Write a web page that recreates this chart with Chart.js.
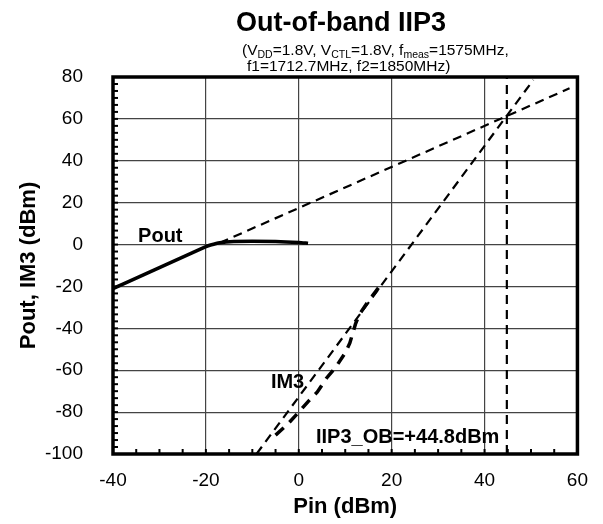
<!DOCTYPE html>
<html>
<head>
<meta charset="utf-8">
<script src="https://cdn.jsdelivr.net/npm/chart.js@4/dist/chart.umd.min.js"></script>
<style>
html,body{margin:0;padding:0;background:#fff;}
#wrap{width:603px;height:524px;position:relative;}
</style>
</head>
<body>
<div id="wrap"><canvas id="c" width="603" height="524"></canvas></div>
<script>
// ---- data ----
const pinPout = [-40, -35, -30, -25, -20, -19, -17, -14, -10, -5, 0, 2];
const poutVals = [-21, -16, -11, -6, -1, -0.2, 0.9, 1.5, 1.6, 1.5, 1.0, 0.6];

const pinIM3 = [-5, -2.5, 0, 2, 4, 6, 8, 10, 11, 12.2, 13, 15, 16.5, 17.2];
const im3Vals = [-91, -86, -80, -75, -70.4, -63.7, -58.4, -51.7, -47, -38, -33.5, -27, -22.6, -20.5];

const poutExtX = [-17, 58.3];
const poutExtY = [0.8, 74.6];
const im3ExtX = [-9.1, 50.5];
const im3ExtY = [-100, 78.6];
const iip3 = 44.8;
const iip3LineY = [-100, 80];

const xTicks = [-40, -20, 0, 20, 40, 60];
const yTicks = [-100, -80, -60, -40, -20, 0, 20, 40, 60, 80];

const labels = [
  {text: 'Pout', x: -34.6, y: 1.2},
  {text: 'IM3', x: -6, y: -68.4},
  {text: 'IIP3_OB=+44.8dBm', x: 3.7, y: -94.7}
];

const FONT = "'Liberation Sans', Arial, sans-serif";
const toPts = (xs, ys) => xs.map((x, i) => ({x: x, y: ys[i]}));

const framePlugin = {
  id: 'frame',
  afterDatasetsDraw(chart) {
    const ctx = chart.ctx, a = chart.chartArea;
    const xs = chart.scales.x, ys = chart.scales.y;
    ctx.save();
    // minor ticks
    ctx.strokeStyle = '#000';
    ctx.lineWidth = 2;
    for (let v = -40; v <= 60.001; v += 5) {
      const px = xs.getPixelForValue(v);
      ctx.beginPath(); ctx.moveTo(px, a.bottom); ctx.lineTo(px, a.bottom - 5); ctx.stroke();
    }
    for (let v = -100; v <= 80.001; v += 20 / 6) {
      const py = ys.getPixelForValue(v);
      ctx.beginPath(); ctx.moveTo(a.left, py); ctx.lineTo(a.left + 5, py); ctx.stroke();
    }
    // frame
    ctx.lineWidth = 3.5;
    ctx.strokeRect(a.left, a.top, a.right - a.left, a.bottom - a.top);
    // annotation labels
    ctx.fillStyle = '#000';
    ctx.textBaseline = 'alphabetic';
    ctx.textAlign = 'left';
    ctx.font = 'bold 20px ' + FONT;
    labels.forEach(l => {
      ctx.fillText(l.text, xs.getPixelForValue(l.x), ys.getPixelForValue(l.y));
    });
    ctx.restore();
  },
  afterDraw(chart) {
    const ctx = chart.ctx;
    ctx.save();
    ctx.fillStyle = '#000';
    ctx.textAlign = 'center';
    ctx.textBaseline = 'alphabetic';
    ctx.font = 'bold 27px ' + FONT;
    ctx.fillText('Out-of-band IIP3', 341, 31);
    // subtitle with subscripts
    ctx.textAlign = 'left';
    const segs1 = [['(V', 0], ['DD', 1], ['=1.8V, V', 0], ['CTL', 1], ['=1.8V, f', 0], ['meas', 1], ['=1575MHz,', 0]];
    let x = 242;
    segs1.forEach(s => {
      ctx.font = (s[1] ? '10.5px ' : '15.5px ') + FONT;
      ctx.fillText(s[0], x, s[1] ? 58 : 55);
      x += ctx.measureText(s[0]).width;
    });
    ctx.font = '15.5px ' + FONT;
    ctx.fillText('f1=1712.7MHz, f2=1850MHz)', 247, 71);
    ctx.restore();
  }
};

new Chart(document.getElementById('c'), {
  type: 'scatter',
  data: {
    datasets: [
      {data: toPts(poutExtX, poutExtY), showLine: true, borderColor: '#000', borderWidth: 2.2, borderDash: [9, 6], pointRadius: 0},
      {data: toPts(im3ExtX, im3ExtY), showLine: true, borderColor: '#000', borderWidth: 2.2, borderDash: [9, 6], pointRadius: 0},
      {data: toPts([iip3, iip3], iip3LineY), showLine: true, borderColor: '#000', borderWidth: 2.2, borderDash: [9, 6], pointRadius: 0},
      {data: toPts(pinPout, poutVals), showLine: true, borderColor: '#000', borderWidth: 3.5, pointRadius: 0, tension: 0.2},
      {data: toPts(pinIM3, im3Vals), showLine: true, borderColor: '#000', borderWidth: 3.5, borderDash: [11, 8], pointRadius: 0}
    ]
  },
  options: {
    responsive: false,
    animation: false,
    layout: {padding: {left: 0, top: 77, right: 23, bottom: 0}},
    plugins: {legend: {display: false}, tooltip: {enabled: false}},
    scales: {
      x: {
        type: 'linear', min: -40, max: 60,
        afterBuildTicks: s => { s.ticks = xTicks.map(v => ({value: v})); },
        afterFit: s => { s.height = 70; },
        ticks: {color: '#000', font: {size: 19, family: FONT}, padding: 15},
        grid: {color: '#444', lineWidth: 1.2, drawTicks: false},
        border: {display: false},
        title: {display: true, text: 'Pin (dBm)', color: '#000', font: {size: 22, weight: 'bold', family: FONT}, padding: {top: 0, bottom: 4}}
      },
      y: {
        type: 'linear', min: -100, max: 80,
        afterBuildTicks: s => { s.ticks = yTicks.map(v => ({value: v})); },
        afterFit: s => { s.width = 113; },
        ticks: {color: '#000', font: {size: 19, family: FONT}, padding: 30},
        grid: {color: '#444', lineWidth: 1.2, drawTicks: false},
        border: {display: false},
        title: {display: true, text: 'Pout, IM3 (dBm)', color: '#000', font: {size: 22, weight: 'bold', family: FONT}, padding: {top: 16, bottom: 0}}
      }
    }
  },
  plugins: [framePlugin]
});
</script>
</body>
</html>
